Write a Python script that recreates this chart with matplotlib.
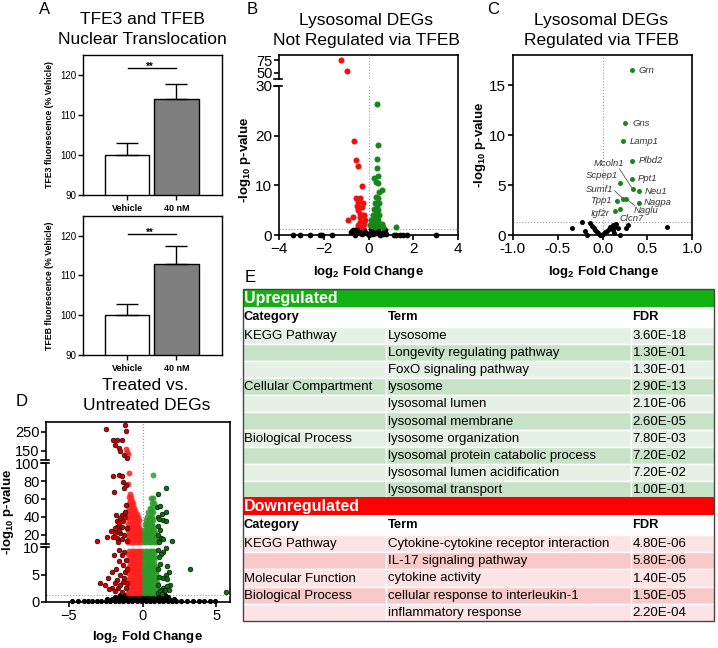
#%% Imports
import numpy as np
import matplotlib.pyplot as plt
from matplotlib.patches import Rectangle

plt.rcParams['font.family'] = ['Liberation Sans', 'DejaVu Sans']
plt.rcParams['mathtext.default'] = 'regular'

#%% Data
# A - nuclear translocation (% vehicle)
groups = ['Vehicle', '40 nM']
tfe3_mean = [100, 113.9]
tfe3_err = [3.1, 3.9]
tfeb_mean = [100, 112.8]
tfeb_err = [2.8, 4.5]

# B - lysosomal DEGs not regulated via TFEB
b_red_x = [-1.25, -0.95, -0.66, -0.57, -0.45, -0.31, -0.57, -0.36, -0.46, -0.25, -0.51, -0.31,
           -0.46, -0.39, -0.19, -0.71, -0.92, -0.39, -0.17, -0.36, -0.21, -0.46, -0.28]
b_red_y = [76, 54, 18.9, 15.1, 13.9, 9.9, 7.5, 7.4, 6.7, 6.5, 5.9, 5.6,
           5.1, 4.3, 4.1, 3.7, 3.1, 3.7, 3.1, 2.6, 2.3, 2.1, 1.6]
b_green_x = [0.38, 0.44, 0.36, 0.36, 0.43, 0.24, 0.33, 0.43, 0.59, 0.46, 0.33, 0.43, 0.28, 0.46,
             0.36, 0.24, 0.43, 0.33, 0.18, 0.48, 0.28, 0.43, 0.13, 0.36, 0.62, 0.2, 0.07, 0.65,
             1.25, 0.15, 0.3, 0.5, 0.25, 0.4]
b_green_y = [26.4, 18.1, 15.3, 13.4, 11.9, 11.4, 10.7, 10.4, 9.1, 8.7, 7.7, 7.4, 6.5, 6.4,
             5.7, 5.2, 5.1, 4.4, 4.1, 4.1, 3.4, 3.1, 3.1, 2.5, 2.3, 2.3, 2.1, 1.7,
             1.6, 1.8, 1.6, 1.9, 2.8, 2.0]
b_black_x = [-3.39, -3.04, -2.62, -2.17, -2.07, -1.65, -0.80, -0.68, -0.57, -0.51, -0.39, -0.32,
             -0.21, -0.09, 0.03, 0.13, 0.24, 0.33, 0.43, 0.53, 0.65, 0.73, 0.80, -0.6, -0.3, 0.0,
             0.2, 0.5, 0.7, 1.13, 1.25, 1.43, 1.55, 1.70, 3.0]
b_black_y = [0, 0, 0, 0, 0, 0, 0.73, 1.06, 0.53, 1.2, 0.39, 0.73,
             1.06, 0.53, 0.26, 1.2, 0.73, 0.39, 1.06, 0.53, 0.26, 1.1, 0.2, 0.1, 0.2, 0.1,
             0.3, 0.1, 0.6, 0, 0, 0, 0, 0, 0]

# C - lysosomal DEGs regulated via TFEB
c_genes = ['Grn', 'Gns', 'Lamp1', 'Plbd2', 'Ppt1', 'Scpep1', 'Mcoln1', 'Neu1', 'Sumf1', 'Naglu',
           'Tpp1', 'Nagpa', 'Igf2r', 'Clcn7']
c_x = [0.33, 0.256, 0.23, 0.326, 0.326, 0.19, 0.337, 0.404, 0.226, 0.267, 0.159, 0.404, 0.134, 0.197]
c_y = [16.5, 11.2, 9.46, 7.46, 5.63, 5.2, 4.6, 4.43, 3.66, 3.63, 3.46, 3.26, 2.46, 2.6]
c_black_x = [-0.34, -0.23, -0.2, -0.175, -0.137, -0.115, -0.097, -0.078, -0.063, -0.045, -0.026,
             -0.008, 0.011, 0.03, 0.048, 0.07, 0.089, 0.115, 0.133, 0.15, 0.115, 0.17, 0.133,
             0.19, 0.26, 0.28, 0.72]
c_black_y = [0.76, 1.3, 0.4, 0.07, 1.2, 0.93, 0.7, 0.53, 0.37, 0.2, 0.03,
             0.0, 0.13, 0.3, 0.46, 0.6, 0.83, 1.03, 0.86, 1.13, 0.53, 0.7, 0.27,
             0.05, 0.7, 1.0, 0.8]

# D - treated vs untreated DEGs
# strongly down (log2FC < -1)
d_dkred_x = [-2.51, -1.2, -1.15, -1.99, -1.72, -1.38, -1.88, -1.61, -1.54, -1.25, -1.08,
             -2.01, -1.61, -1.38, -1.32, -1.15, -1.27, -1.93, -1.42, -1.76, -1.58, -1.72, -1.42,
             -2.17, -1.86, -1.54, -2.44, -3.08, -1.76, -1.42, -1.27, -1.58, -1.32, -1.2, -1.13,
             -1.66, -1.81, -1.54, -1.17, -1.85, -1.04, -2.03, -1.08,
             -2.87, -2.58, -2.33, -2.1, -2.1, -2.27, -1.88, -1.72, -1.54, -1.81, -1.63, -1.42,
             -1.95, -1.58, -1.31, -1.2, -1.36, -1.13, -1.42, -1.27, -1.13, -1.27, -1.65, -1.88,
             -1.54, -1.04, -1.04]
d_dkred_y = [265, 290, 255, 205, 205, 208, 181, 164, 146, 128, 110,
             85.7, 86.9, 85.7, 79.4, 75.7, 72.6, 68.2, 42.1, 35.3, 32.8, 28.3, 28.8,
             24.5, 21.5, 22.3, 17.8, 13.3, 16, 15.2, 19.6, 25.3, 35, 45.8, 53.3,
             12.3, 42, 38.4, 40, 27, 27.2, 17.8, 13,
             3.5, 3.07, 4.3, 5.5, 2.45, 2.3, 3.4, 4.0, 4.9, 6.1, 7.4, 8.6,
             8.6, 9.5, 6.7, 5.5, 3.7, 2.5, 1.8, 4.3, 7.7, 9.2, 2.5, 2.0,
             3.1, 3.4, 6.1]
# down (-1 < log2FC < 0), dense cloud read row by row
d_red_rows = {
    1.6: [-0.98, -0.8, -0.62, -0.45, -0.28, -0.12],
    2.2: [-0.9, -0.72, -0.55, -0.38, -0.2, -0.07],
    2.8: [-0.97, -0.8, -0.63, -0.46, -0.3, -0.13],
    3.4: [-0.9, -0.72, -0.55, -0.38, -0.21, -0.07],
    4.0: [-0.96, -0.8, -0.62, -0.45, -0.28, -0.12],
    4.6: [-0.88, -0.7, -0.54, -0.37, -0.2, -0.06],
    5.2: [-0.97, -0.8, -0.62, -0.45, -0.28, -0.12],
    5.8: [-0.88, -0.7, -0.54, -0.37, -0.2, -0.07],
    6.4: [-0.95, -0.78, -0.62, -0.45, -0.28, -0.12],
    7.0: [-0.88, -0.7, -0.54, -0.37, -0.2, -0.08],
    7.6: [-0.96, -0.79, -0.62, -0.45, -0.28, -0.13],
    8.2: [-0.88, -0.7, -0.54, -0.37, -0.2, -0.08],
    8.8: [-0.96, -0.8, -0.62, -0.45, -0.29, -0.13],
    9.4: [-0.9, -0.72, -0.55, -0.38, -0.21, -0.08],
    11.5: [-0.97, -0.8, -0.63, -0.46, -0.3, -0.13],
    15: [-0.9, -0.72, -0.55, -0.38, -0.21, -0.07],
    18.5: [-0.97, -0.8, -0.63, -0.46, -0.3, -0.13],
    22: [-0.9, -0.72, -0.55, -0.38, -0.22, -0.1],
    25.5: [-0.96, -0.8, -0.63, -0.46, -0.3, -0.16],
    29: [-0.9, -0.72, -0.55, -0.38, -0.24],
    32.5: [-0.96, -0.8, -0.63, -0.46, -0.3],
    36: [-0.9, -0.72, -0.55, -0.38, -0.26],
    39.5: [-0.96, -0.8, -0.63, -0.46, -0.33],
    43: [-0.9, -0.72, -0.55, -0.4],
    46.5: [-0.96, -0.8, -0.63, -0.48],
    50: [-0.9, -0.72, -0.56],
    54: [-0.95, -0.8, -0.64],
    58: [-0.88, -0.74],
    62: [-0.92, -0.8],
    66: [-0.85],
    77: [-1.0],
    89: [-0.91],
    130: [-0.98],
    145: [-1.04],
    159: [-1.11],
}
# up (0 < log2FC < 1)
d_green_rows = {
    1.6: [0.07, 0.24, 0.41, 0.58, 0.75, 0.92],
    2.2: [0.14, 0.31, 0.48, 0.65, 0.82, 0.98],
    2.8: [0.07, 0.24, 0.41, 0.58, 0.75, 0.92],
    3.4: [0.14, 0.31, 0.48, 0.65, 0.82, 0.96],
    4.0: [0.07, 0.24, 0.41, 0.58, 0.75, 0.9],
    4.6: [0.14, 0.31, 0.48, 0.65, 0.82],
    5.2: [0.07, 0.24, 0.41, 0.58, 0.75, 0.9],
    5.8: [0.14, 0.31, 0.48, 0.65, 0.82],
    6.4: [0.07, 0.24, 0.41, 0.58, 0.75, 0.88],
    7.0: [0.14, 0.31, 0.48, 0.65, 0.8],
    7.6: [0.07, 0.24, 0.41, 0.58, 0.75],
    8.2: [0.14, 0.31, 0.48, 0.65, 0.8],
    8.8: [0.07, 0.24, 0.41, 0.58, 0.75],
    9.4: [0.14, 0.31, 0.48, 0.65, 0.8],
    11.5: [0.07, 0.24, 0.41, 0.58, 0.75, 0.9],
    15: [0.14, 0.31, 0.48, 0.65, 0.82],
    18.5: [0.08, 0.25, 0.42, 0.59, 0.76, 0.9],
    22: [0.15, 0.32, 0.49, 0.66, 0.82],
    25.5: [0.12, 0.29, 0.46, 0.63, 0.78],
    29: [0.2, 0.37, 0.54, 0.7],
    32.5: [0.15, 0.32, 0.49, 0.65],
    36: [0.25, 0.42, 0.58, 0.72],
    40: [0.3, 0.47, 0.62],
    45: [0.35, 0.55, 0.7],
    50: [0.48, 0.62],
    55: [0.62, 0.78],
    61: [0.55, 0.68],
    87: [0.68],
}
# strongly up (log2FC > 1)
d_dkgreen_x = [1.58, 1.06, 0.95, 1.33, 1.56, 1.02, 1.13, 1.4, 1.22, 1.13, 1.99, 1.36, 1.58,
               1.4, 1.22, 1.13, 1.63, 1.8, 1.56, 1.4, 1.67, 1.85, 1.67, 1.36, 1.51, 1.22, 1.8,
               3.21, 5.69, 1.17, 1.58, 1.05, 1.15, 1.3, 1.05, 1.1, 1.05, 1.2, 1.05, 1.1, 1.05,
               1.15, 1.05]
d_dkgreen_y = [72.6, 65.2, 51.4, 42.8, 45.8, 40.2, 37.6, 36.5, 16.6, 12.9, 12.9, 15.5, 9.8,
               9.2, 8.7, 8.3, 6.6, 5.5, 4.9, 4.3, 4.1, 3.1, 2.9, 2.6, 2.2, 2.2, 2.2,
               5.95, 1.8, 52, 35.7, 1.6, 1.9, 1.5, 3.0, 4.5, 6.0, 7.0, 9.5, 11.5, 20,
               25, 30]
# not significant
d_black_rows = {
    0.1: [-4.8, -4.4, -4.0, -3.7, -3.4, -3.1, -2.8, -2.5, -2.2, -1.9, -1.6, -1.3, -1.0, -0.7,
          -0.4, -0.1, 0.2, 0.5, 0.8, 1.1, 1.4, 1.7, 2.0, 2.3, 2.6, 3.0, 3.4, 3.8, 4.2, 4.6, 4.9],
    0.5: [-2.4, -2.1, -1.8, -1.5, -1.2, -0.9, -0.6, -0.3, 0.0, 0.3, 0.6, 0.9, 1.2, 1.5, 1.8, 2.1],
    0.9: [-1.9, -1.6, -1.3, -1.0, -0.7, -0.4, -0.1, 0.2, 0.5, 0.8, 1.1, 1.4, 1.7],
    1.2: [-1.5, -1.2, -0.9, -0.6, -0.3, 0.0, 0.3, 0.6, 0.9, 1.2, 1.5],
}

# E - enrichment tables
up_category = ['KEGG Pathway', '', '', 'Cellular Compartment', '', '', 'Biological Process', '', '', '']
up_term = ['Lysosome', 'Longevity regulating pathway', 'FoxO signaling pathway', 'lysosome',
           'lysosomal lumen', 'lysosomal membrane', 'lysosome organization',
           'lysosomal protein catabolic process', 'lysosomal lumen acidification', 'lysosomal transport']
up_fdr = ['3.60E-18', '1.30E-01', '1.30E-01', '2.90E-13', '2.10E-06', '2.60E-05', '7.80E-03',
          '7.20E-02', '7.20E-02', '1.00E-01']
down_category = ['KEGG Pathway', '', 'Molecular Function', 'Biological Process', '']
down_term = ['Cytokine-cytokine receptor interaction', 'IL-17 signaling pathway', 'cytokine activity',
             'cellular response to interleukin-1', 'inflammatory response']
down_fdr = ['4.80E-06', '5.80E-06', '1.40E-05', '1.50E-05', '2.20E-04']


#%% Helpers
W, H = 718, 648
fig = plt.figure(figsize=(W / 100, H / 100), dpi=100)


def rect(l, t, r, b):
    return [l / W, 1 - b / H, (r - l) / W, (b - t) / H]


def rows_to_xy(rows):
    xs, ys = [], []
    for y, row in rows.items():
        xs += row
        ys += [y] * len(row)
    return np.array(xs), np.array(ys)


def style_axis(ax, labelsize=11, lw=1.2):
    for s in ax.spines.values():
        s.set_linewidth(lw)
    ax.tick_params(direction='out', length=3.5, width=lw, labelsize=labelsize, pad=1.5)


def scatter_range(ax, x, y, lo, hi, **kw):
    x, y = np.asarray(x, float), np.asarray(y, float)
    m = (y >= lo) & (y <= hi)
    ax.scatter(x[m], y[m], clip_on=False, linewidths=kw.pop('linewidths', 0), **kw)


def break_marks(ax, where, width_px):
    # short "=" marks on the left spine at an axis break
    d = 5 / width_px
    ax.plot([-d, d * 0.5], [where, where], transform=ax.transAxes, color='black',
            lw=1.2, clip_on=False)


def ftext(x, y, s, **kw):
    fig.text(x / W, 1 - y / H, s, **kw)


#%% Panel A - bar charts
def bar_panel(top, bottom, mean, err, sig_y, ylabel):
    ax = fig.add_axes(rect(83, top, 222, bottom))
    ax.bar([0, 1], mean, width=0.89, color=['white', '#7f7f7f'], edgecolor='black', linewidth=1)
    ax.errorbar([0, 1], mean, yerr=[[0, 0], err], fmt='none', ecolor='black', elinewidth=1,
                capsize=8, capthick=1)
    ax.plot([0.014, 1.0], [sig_y, sig_y], color='black', lw=1)
    ax.text(0.47, sig_y - 0.5, '**', ha='center', va='baseline', fontsize=7, fontweight='bold')
    ax.set_xlim(-0.89, 1.92)
    ax.set_ylim(90, 125)
    ax.set_yticks([90, 100, 110, 120])
    ax.set_xticks([0, 1])
    ax.set_xticklabels(groups, fontweight='bold')
    style_axis(ax, labelsize=7, lw=1)
    ax.tick_params(axis='x', labelsize=6.5, pad=3)
    ftext(49, (top + bottom) / 2, ylabel, rotation=90, ha='center', va='center',
          fontsize=6.3, fontweight='bold')


bar_panel(55, 195, tfe3_mean, tfe3_err, 121.7, 'TFE3 fluorescence (% Vehicle)')
bar_panel(215.7, 355, tfeb_mean, tfeb_err, 120.4, 'TFEB fluorescence (% Vehicle)')
ftext(142, 20, 'TFE3 and TFEB', ha='center', va='center', fontsize=12.5)
ftext(142, 40, 'Nuclear Translocation', ha='center', va='center', fontsize=12.5)

#%% Panel B - broken-axis volcano
frame = fig.add_axes(rect(279, 55, 458, 235.3))
frame.set_xticks([])
frame.set_yticks([])
frame.patch.set_alpha(0)
for side in ['left', 'bottom']:
    frame.spines[side].set_visible(False)
for side in ['top', 'right']:
    frame.spines[side].set_linewidth(1.2)

b_lo = fig.add_axes(rect(279, 85.7, 458, 235.3))
b_hi = fig.add_axes(rect(279, 55, 458, 79))
for ax, (lo, hi) in [(b_lo, (0, 30)), (b_hi, (37.5, 85))]:
    ax.patch.set_alpha(0)
    ax.set_xlim(-4, 4)
    ax.set_ylim(lo, hi)
    ax.spines['top'].set_visible(False)
    ax.spines['right'].set_visible(False)
    style_axis(ax)
    ax.axvline(0, color='#9a9a9a', ls=':', lw=0.8, zorder=0)
    scatter_range(ax, b_black_x, b_black_y, lo, hi, s=17, color='black', zorder=3)
    scatter_range(ax, b_red_x, b_red_y, lo, hi, s=19, color='#f01010', zorder=3)
    scatter_range(ax, b_green_x, b_green_y, lo, hi, s=19, color='#14891a', zorder=3)
b_lo.axhline(1.3, color='#9a9a9a', ls=':', lw=0.8, zorder=0)
b_lo.set_yticks([0, 10, 20, 30])
b_lo.set_xticks([-4, -2, 0, 2, 4])
b_hi.set_yticks([50, 75])
b_hi.set_xticks([])
b_hi.spines['bottom'].set_visible(False)
b_hi.tick_params(labelsize=10.5, pad=1)
break_marks(b_lo, 1.0, 179)
break_marks(b_hi, 0.0, 179)
ftext(245, 160, '-log$_{10}$ p-value', rotation=90, ha='center', va='center',
      fontsize=9.5, fontweight='bold')
ftext(368, 272, 'log$_{2}$ Fold Change', ha='center', va='center', fontsize=9.5, fontweight='bold')
ftext(366, 21, 'Lysosomal DEGs', ha='center', va='center', fontsize=12.5)
ftext(366, 40, 'Not Regulated via TFEB', ha='center', va='center', fontsize=12.5)

#%% Panel C - labelled volcano
axc = fig.add_axes(rect(512.7, 55, 692.3, 235.3))
axc.set_xlim(-1, 1)
axc.set_ylim(0, 18)
style_axis(axc)
axc.set_xticks([-1, -0.5, 0, 0.5, 1])
axc.set_xticklabels(['-1.0', '-0.5', '0.0', '0.5', '1.0'])
axc.set_yticks([0, 5, 10, 15])
axc.axvline(0, color='#9a9a9a', ls=':', lw=0.8, zorder=0)
axc.axhline(1.3, color='#9a9a9a', ls=':', lw=0.8, zorder=0)
axc.scatter(c_black_x, c_black_y, s=13, color='black', linewidths=0, clip_on=False, zorder=3)
axc.scatter(c_x, c_y, s=13, color='#14891a', linewidths=0, zorder=3)

# label placement: gene -> (x, y, ha, leader start or None)
c_label_pos = {
    'Grn': (0.40, 16.46, 'left', None), 'Gns': (0.33, 11.13, 'left', None),
    'Lamp1': (0.30, 9.36, 'left', None), 'Plbd2': (0.404, 7.46, 'left', None),
    'Ppt1': (0.393, 5.7, 'left', None), 'Scpep1': (0.17, 5.96, 'right', None),
    'Mcoln1': (0.245, 7.13, 'right', (0.189, 6.63)), 'Neu1': (0.468, 4.36, 'left', None),
    'Sumf1': (0.118, 4.53, 'right', (0.134, 4.46)), 'Naglu': (0.35, 2.5, 'left', (0.36, 2.95)),
    'Tpp1': (0.097, 3.46, 'right', None), 'Nagpa': (0.457, 3.32, 'left', None),
    'Igf2r': (0.078, 2.13, 'right', None), 'Clcn7': (0.19, 1.7, 'left', None),
}
for g, gx, gy in zip(c_genes, c_x, c_y):
    lx, ly, ha, lead = c_label_pos[g]
    axc.text(lx, ly, g, ha=ha, va='center', fontsize=6.8, style='italic', color='#333333')
    if lead is not None:
        axc.plot([lead[0], gx], [lead[1], gy], color='#555555', lw=0.6)
ftext(480, 145, '-log$_{10}$ p-value', rotation=90, ha='center', va='center',
      fontsize=9.5, fontweight='bold')
ftext(603, 272, 'log$_{2}$ Fold Change', ha='center', va='center', fontsize=9.5, fontweight='bold')
ftext(601, 21, 'Lysosomal DEGs', ha='center', va='center', fontsize=12.5)
ftext(601, 40, 'Regulated via TFEB', ha='center', va='center', fontsize=12.5)

#%% Panel D - three-segment volcano
frame = fig.add_axes(rect(46, 421.7, 230, 601.7))
frame.set_xticks([])
frame.set_yticks([])
frame.patch.set_alpha(0)
for side in ['left', 'bottom']:
    frame.spines[side].set_visible(False)
for side in ['top', 'right']:
    frame.spines[side].set_linewidth(1.2)

red_x, red_y = rows_to_xy(d_red_rows)
green_x, green_y = rows_to_xy(d_green_rows)
black_x, black_y = rows_to_xy(d_black_rows)
d_top = fig.add_axes(rect(46, 421.7, 230, 460))
d_mid = fig.add_axes(rect(46, 463.3, 230, 543.6))
d_bot = fig.add_axes(rect(46, 547.3, 230, 601.7))
segs = [(d_top, (100, 305), [150, 250]), (d_mid, (10, 100), [20, 40, 60, 80, 100]),
        (d_bot, (0, 10), [0, 5, 10])]
for ax, (lo, hi), ticks in segs:
    ax.patch.set_alpha(0)
    ax.set_xlim(-6.55, 5.93)
    ax.set_ylim(lo, hi)
    ax.set_yticks(ticks)
    ax.spines['top'].set_visible(False)
    ax.spines['right'].set_visible(False)
    style_axis(ax, labelsize=10.5)
    ax.tick_params(axis='y', pad=1)
    ax.axvline(0, color='#9a9a9a', ls=':', lw=0.8, zorder=0)
    scatter_range(ax, black_x, black_y, lo, hi, s=14, color='black', zorder=2)
    scatter_range(ax, red_x, red_y, lo, hi, s=18, color='#ff2020', alpha=0.85, zorder=2)
    scatter_range(ax, green_x, green_y, lo, hi, s=18, color='#2a9c2a', alpha=0.85, zorder=2)
    scatter_range(ax, d_dkred_x, d_dkred_y, lo, hi, s=12, color='#c80000', edgecolors='black',
                  linewidths=0.4, zorder=3)
    scatter_range(ax, d_dkgreen_x, d_dkgreen_y, lo, hi, s=12, color='#0e6e12', edgecolors='black',
                  linewidths=0.4, zorder=3)
    if ax is not d_bot:
        ax.set_xticks([])
        ax.spines['bottom'].set_visible(False)
d_bot.axhline(1.3, color='#9a9a9a', ls=':', lw=0.8, zorder=0)
d_bot.set_xticks([-5, 0, 5])
break_marks(d_top, 0.0, 184)
break_marks(d_mid, 1.0, 184)
break_marks(d_mid, 0.0, 184)
break_marks(d_bot, 1.0, 184)
ftext(8, 512, '-log$_{10}$ p-value', rotation=90, ha='center', va='center',
      fontsize=9.5, fontweight='bold')
ftext(147, 637, 'log$_{2}$ Fold Change', ha='center', va='center', fontsize=9.5, fontweight='bold')
ftext(145, 386, 'Treated vs.', ha='center', va='center', fontsize=12.5)
ftext(147, 406, 'Untreated DEGs', ha='center', va='center', fontsize=12.5)

#%% Panel E - enrichment table
canvas = fig.add_axes([0, 0, 1, 1])
canvas.set_xlim(0, W)
canvas.set_ylim(H, 0)
canvas.set_axis_off()

tab_l, tab_r = 242.5, 714
col_x = [tab_l, 386, 631, tab_r]
row_h = 17.2


def table_block(top, title, head_color, light, dark, cats, terms, fdrs):
    canvas.add_patch(Rectangle((tab_l, top), tab_r - tab_l, 18, color=head_color, lw=0))
    canvas.text(tab_l + 1.5, top + 9.5, title, color='white', fontsize=11.5, fontweight='bold',
                va='center', ha='left')
    y = top + 18
    for i, h in enumerate(['Category', 'Term', 'FDR']):
        canvas.text(col_x[i] + 1.5, y + 10, h, fontsize=9.3, fontweight='bold', va='center')
    y += 19.5
    for r, (c, t, f) in enumerate(zip(cats, terms, fdrs)):
        fill = light if r % 2 == 0 else dark
        for i in range(3):
            canvas.add_patch(Rectangle((col_x[i], y), col_x[i + 1] - col_x[i], row_h,
                                       facecolor=fill, edgecolor='white', lw=1))
        for i, s in enumerate([c, t, f]):
            canvas.text(col_x[i] + 1.5, y + row_h / 2 + 0.5, s, fontsize=9.5, va='center')
        y += row_h
    return y


y_end = table_block(289, 'Upregulated', '#12b012', '#e4f1e4', '#c8e2c8',
                    up_category, up_term, up_fdr)
y_end = table_block(y_end - 1, 'Downregulated', '#ff0000', '#fde3e3', '#f9c9c9',
                    down_category, down_term, down_fdr)
canvas.add_patch(Rectangle((tab_l, 289), tab_r - tab_l, y_end - 289, fill=False,
                           edgecolor='#444444', lw=1))

#%% Panel letters
for letter, (x, y) in {'A': (45, 9), 'B': (252, 9), 'C': (493, 9), 'D': (22, 402),
                       'E': (250, 278)}.items():
    ftext(x, y, letter, ha='center', va='center', fontsize=12)

fig.savefig('out.png', dpi=100)
